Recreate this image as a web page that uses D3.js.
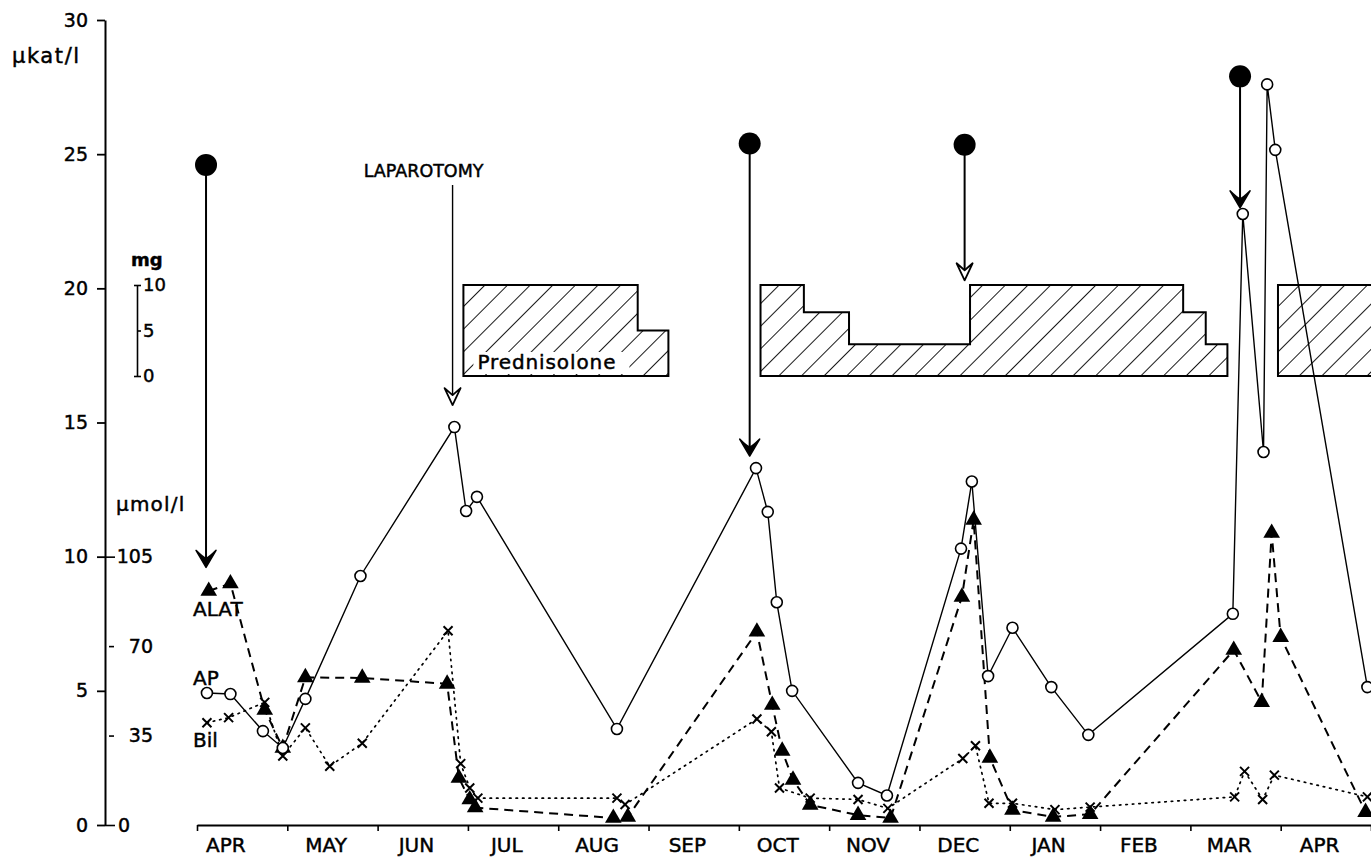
<!DOCTYPE html>
<html>
<head>
<meta charset="utf-8">
<script src="https://cdn.jsdelivr.net/npm/d3@7"></script>
<style>
  html, body { margin: 0; padding: 0; background: #fff; }
  svg { display: block; font-family: "DejaVu Sans", sans-serif; }
  svg text { stroke: #000; stroke-width: 0.45px; fill: #000; }
</style>
</head>
<body>
<svg id="chart" width="1371" height="858"></svg>
<script>
// Time axis: 0 = 1 April, one unit per month
const monthLabels = ["APR", "MAY", "JUN", "JUL", "AUG", "SEP", "OCT", "NOV", "DEC", "JAN", "FEB", "MAR", "APR"];

// Alkaline phosphatase, µkat/l
const apMonth = [0.11, 0.37, 0.73, 0.95, 1.20, 1.81, 2.85, 2.98, 3.10, 4.65, 6.19, 6.32, 6.42, 6.59, 7.32, 7.64,
                 8.46, 8.58, 8.76, 9.03, 9.46, 9.87, 11.47, 11.58, 11.81, 11.85, 11.94, 12.96];
const apValue = [4.92, 4.88, 3.5, 2.87, 4.7, 9.28, 14.83, 11.7, 12.23, 3.58, 13.3, 11.67, 8.3, 5.0, 1.57, 1.1,
                 10.3, 12.8, 5.55, 7.35, 5.14, 3.36, 7.87, 22.77, 13.9, 27.6, 25.16, 5.14];

// ALAT, µkat/l
const alatMonth = [0.13, 0.37, 0.75, 0.95, 1.20, 1.83, 2.77, 2.90, 3.02, 3.08, 4.61, 4.77, 6.20, 6.37, 6.48, 6.60,
                   6.79, 7.32, 7.68, 8.47, 8.60, 8.78, 9.03, 9.48, 9.89, 11.48, 11.79, 11.90, 12.00, 12.94];
const alatValue = [8.72, 9.0, 4.29, 2.87, 5.5, 5.48, 5.26, 1.75, 0.95, 0.65, 0.26, 0.3, 7.2, 4.47, 2.76, 1.68,
                   0.75, 0.37, 0.26, 8.5, 11.37, 2.5, 0.56, 0.3, 0.4, 6.52, 4.58, 10.88, 7.0, 0.48];

// Bilirubin, µmol/l
const bilMonth = [0.11, 0.35, 0.75, 0.95, 1.20, 1.47, 1.83, 2.78, 2.92, 3.02, 3.11, 4.65, 4.74, 6.20, 6.36, 6.45,
                  6.79, 7.32, 7.65, 8.48, 8.62, 8.77, 9.03, 9.50, 9.89, 11.49, 11.60, 11.80, 11.93, 12.96];
const bilValue = [40, 42, 48, 27, 38, 23, 32, 76, 24, 14.5, 10.5, 10.5, 8, 41.5, 36.5, 14.5,
                  10.5, 10, 6.5, 26, 31, 8.5, 8.5, 6, 7, 11, 21, 10, 19.5, 11];

// Prednisolone courses: [start month, end month, daily dose mg]
const predCourse1 = [[2.95, 4.88, 10], [4.88, 5.22, 5]];
const predCourse2 = [[6.24, 6.72, 10], [6.72, 7.22, 7], [7.22, 8.56, 3.5], [8.56, 10.92, 10], [10.92, 11.17, 7], [11.17, 11.41, 3.5]];
const predCourse3 = [[11.97, 13.2, 10]];

// Clinical events: dot with arrow, or labelled arrow
const eventMonth = [0.10, 2.83, 6.12, 8.50, 11.55];
const eventFrom  = [24.6, 23.85, 25.4, 25.35, 27.9];   // µkat/l level of dot / arrow start
const eventTo    = [9.6, 15.65, 13.75, 20.3, 23.0];    // µkat/l level of arrow tip
const eventHead  = ["solid", "open", "solid", "open", "solid"];
const eventDot   = [true, false, true, true, true];
const eventText  = ["", "LAPAROTOMY", "", "", ""];

// Series names and the µkat/l level of their baselines
const seriesNames = ["ALAT", "AP", "Bil"];
const seriesNameLevel = [7.8, 5.22, 2.9];

// Axis ticks
const katTicks = [0, 5, 10, 15, 20, 25, 30];
const molTicks = [0, 35, 70, 105];
const mgTicks = [0, 5, 10];

const svg = d3.select("#chart");

const x = d3.scaleLinear().domain([0, 13]).range([197, 1371]);
const y = d3.scaleLinear().domain([0, 30]).range([825, 20]);
const yMol = d3.scaleLinear().domain([0, 315]).range([825, 20]);
const yMg = d3.scaleLinear().domain([0, 10]).range([376, 285]);

// hatch pattern for prednisolone blocks
const defs = svg.append("defs");
defs.append("pattern")
  .attr("id", "hatch")
  .attr("patternUnits", "userSpaceOnUse")
  .attr("width", 16).attr("height", 16)
  .attr("patternTransform", "rotate(45)")
  .append("line")
  .attr("x1", 0).attr("y1", 0).attr("x2", 0).attr("y2", 16)
  .attr("stroke", "#000").attr("stroke-width", 1.8);

// ---- left µkat/l axis
const katAxis = svg.append("g")
  .attr("transform", "translate(105,0)")
  .call(d3.axisLeft(y).tickValues(katTicks).tickSize(8).tickPadding(9).tickSizeOuter(0));
katAxis.select(".domain").attr("stroke-width", 2);
katAxis.selectAll(".tick line").attr("stroke-width", 1.8);
katAxis.selectAll(".tick text").attr("font-size", 19).attr("font-family", "DejaVu Sans");

svg.append("text").attr("x", 12).attr("y", 63).attr("font-size", 21).attr("letter-spacing", 1.6)
  .text("µkat/l");

// ---- µmol/l axis on the same line
const molAxis = svg.append("g")
  .attr("transform", "translate(105,0)")
  .call(d3.axisRight(yMol).tickValues(molTicks).tickSize(7).tickPadding(2));
molAxis.select(".domain").remove();
molAxis.selectAll(".tick line").attr("stroke-width", 1.6);
molAxis.selectAll(".tick text")
  .attr("font-size", 19).attr("font-family", "DejaVu Sans")
  .attr("text-anchor", d => d === 0 ? "start" : "end")
  .attr("x", d => d === 0 ? 13 : 48);
molAxis.selectAll(".tick line").attr("x1", d => (d === 35 || d === 70) ? 4 : 0).attr("x2", d => (d === 35 || d === 70) ? 9 : 10);

svg.append("text").attr("x", 116).attr("y", 511).attr("font-size", 20).attr("letter-spacing", 1.2)
  .text("µmol/l");

// ---- mg scale for prednisolone
const mgAxis = svg.append("g")
  .attr("transform", "translate(137,0)")
  .call(d3.axisRight(yMg).tickValues(mgTicks).tickSize(4).tickPadding(2).tickSizeOuter(0));
mgAxis.select(".domain").attr("stroke-width", 1.6);
mgAxis.selectAll(".tick line").attr("x1", d => d === 5 ? 0 : -3).attr("stroke-width", 1.6);
mgAxis.selectAll(".tick text").attr("font-size", 18).attr("font-family", "DejaVu Sans");

svg.append("text").attr("x", 131).attr("y", 266).attr("font-size", 18).attr("font-weight", "bold")
  .text("mg");

// ---- time axis
const timeAxis = svg.append("g")
  .attr("transform", "translate(0,825)")
  .call(d3.axisBottom(x).tickValues(d3.range(0, 14)).tickSize(6).tickFormat("").tickSizeOuter(0));
timeAxis.select(".domain").attr("stroke-width", 2);
timeAxis.selectAll(".tick line").attr("stroke-width", 1.6);

svg.append("g").selectAll("text")
  .data(monthLabels)
  .join("text")
  .attr("x", (d, i) => x(i + (i === 0 ? 0.32 : 0.43)))
  .attr("y", 852)
  .attr("text-anchor", "middle")
  .attr("font-size", 20)
  .text(d => d);

// ---- prednisolone blocks
function predPath(steps) {
  const pts = [[steps[0][0], 0]];
  steps.forEach(s => { pts.push([s[0], s[2]]); pts.push([s[1], s[2]]); });
  pts.push([steps[steps.length - 1][1], 0]);
  return d3.line().x(d => x(d[0])).y(d => yMg(d[1]))(pts) + "Z";
}
svg.append("g").selectAll("path")
  .data([predCourse1, predCourse2, predCourse3])
  .join("path")
  .attr("d", predPath)
  .attr("fill", "url(#hatch)")
  .attr("stroke", "#000")
  .attr("stroke-width", 2);

const predLabelX = x(predCourse1[0][0]) + 14;
svg.append("rect")
  .attr("x", predLabelX - 4).attr("y", yMg(0) - 24)
  .attr("width", 156).attr("height", 22).attr("fill", "#fff");
svg.append("text")
  .attr("x", predLabelX).attr("y", yMg(0) - 7)
  .attr("font-size", 20).attr("letter-spacing", 0.9)
  .text("Prednisolone");

// ---- series lines
const lineOf = (mArr, vArr, scale) =>
  d3.line().x((d, i) => x(mArr[i])).y((d, i) => scale(vArr[i]))(vArr);

svg.append("path").attr("d", lineOf(bilMonth, bilValue, yMol))
  .attr("fill", "none").attr("stroke", "#000").attr("stroke-width", 1.7)
  .attr("stroke-dasharray", "1.5,5").attr("stroke-linecap", "round");

svg.append("path").attr("d", lineOf(alatMonth, alatValue, y))
  .attr("fill", "none").attr("stroke", "#000").attr("stroke-width", 2)
  .attr("stroke-dasharray", "9,6");

svg.append("path").attr("d", lineOf(apMonth, apValue, y))
  .attr("fill", "none").attr("stroke", "#000").attr("stroke-width", 1.4);

// ---- markers
svg.append("g").selectAll("path")
  .data(bilValue)
  .join("path")
  .attr("transform", (d, i) => `translate(${x(bilMonth[i])},${yMol(d)})`)
  .attr("d", "M-4.5,-4.5L4.5,4.5M-4.5,4.5L4.5,-4.5")
  .attr("stroke", "#000").attr("stroke-width", 2).attr("fill", "none");

svg.append("g").selectAll("path")
  .data(alatValue)
  .join("path")
  .attr("transform", (d, i) => `translate(${x(alatMonth[i])},${y(d)})`)
  .attr("d", d3.symbol(d3.symbolTriangle, 120))
  .attr("fill", "#000");

svg.append("g").selectAll("circle")
  .data(apValue)
  .join("circle")
  .attr("cx", (d, i) => x(apMonth[i]))
  .attr("cy", d => y(d))
  .attr("r", 5.5)
  .attr("fill", "#fff").attr("stroke", "#000").attr("stroke-width", 1.6);

// ---- series names
svg.append("g").selectAll("text")
  .data(seriesNames)
  .join("text")
  .attr("x", 193)
  .attr("y", (d, i) => y(seriesNameLevel[i]))
  .attr("font-size", 20)
  .text(d => d);

// ---- events
const ev = svg.append("g");
eventMonth.forEach((m, i) => {
  const ex = x(m), y0 = y(eventFrom[i]), y1 = y(eventTo[i]);
  ev.append("line").attr("x1", ex).attr("x2", ex).attr("y1", y0).attr("y2", y1 - 3)
    .attr("stroke", "#000").attr("stroke-width", eventDot[i] ? 2 : 1.4);
  if (eventHead[i] === "solid") {
    ev.append("path").attr("transform", `translate(${ex},${y1})`)
      .attr("d", "M0,0 L-10,-17 Q-3,-10 0,-9 Q3,-10 10,-17 Z")
      .attr("fill", "#000").attr("stroke", "#000").attr("stroke-width", 1.5).attr("stroke-linejoin", "round");
  } else {
    ev.append("path").attr("transform", `translate(${ex},${y1})`)
      .attr("d", "M0,0 L-8,-17 L0,-10 L8,-17 Z")
      .attr("fill", "#fff").attr("stroke", "#000").attr("stroke-width", 1.8).attr("stroke-linejoin", "round");
  }
  if (eventDot[i]) {
    ev.append("circle").attr("cx", ex).attr("cy", y0).attr("r", 11).attr("fill", "#000");
  }
  if (eventText[i]) {
    ev.append("text").attr("x", ex - 29).attr("y", y0 - 8).attr("text-anchor", "middle")
      .attr("font-size", 17.5).text(eventText[i]);
  }
});
</script>
</body>
</html>
